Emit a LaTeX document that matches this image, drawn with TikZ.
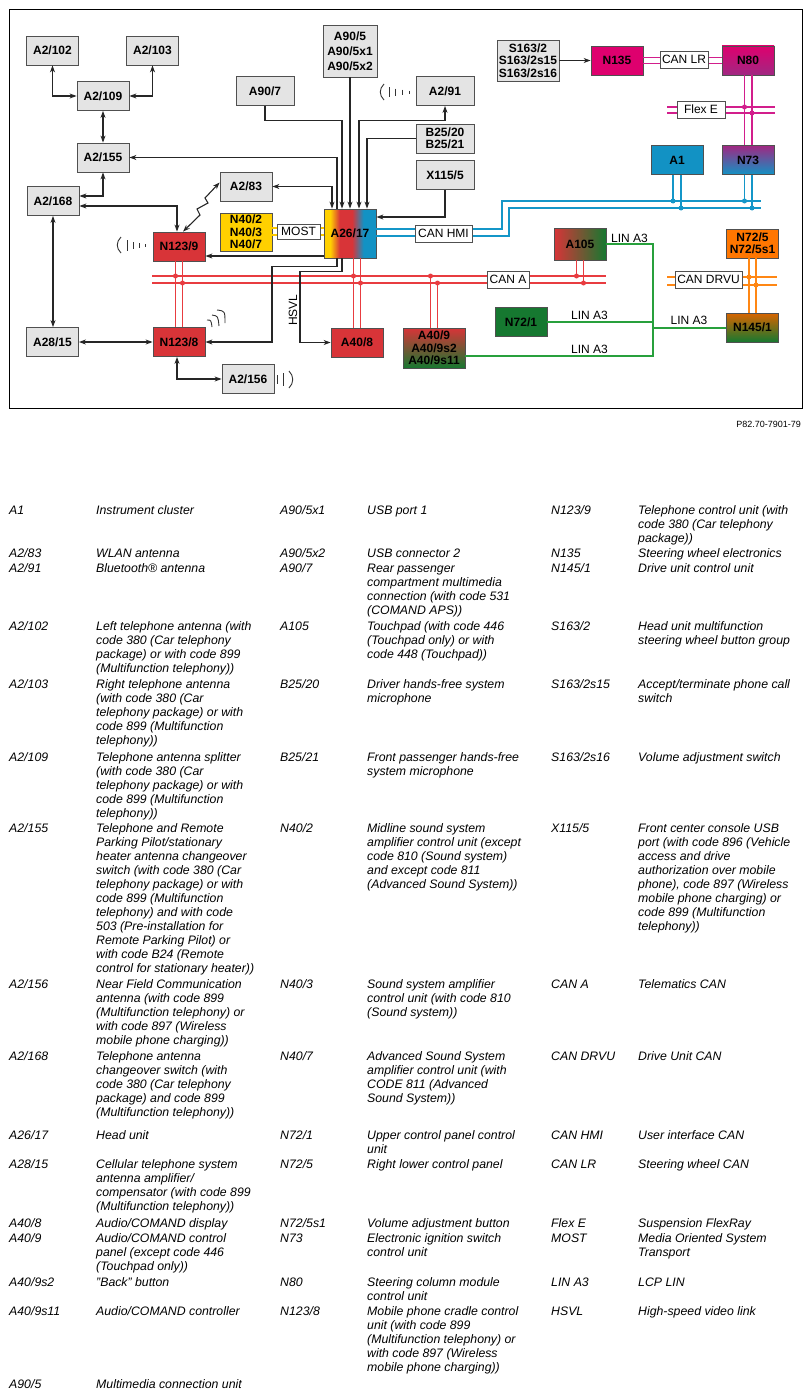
\documentclass[tikz,border=0pt]{standalone}
\usepackage{fontspec}
\setmainfont{Liberation Sans}
\usepackage{tikz}
\usetikzlibrary{arrows.meta}

\definecolor{boxline}{RGB}{80,80,80}
\definecolor{boxgray}{RGB}{228,228,228}
\definecolor{ecured}{RGB}{216,52,56}
\definecolor{ecumag}{RGB}{222,0,110}
\definecolor{ecupurple}{RGB}{160,40,130}
\definecolor{ecublue}{RGB}{18,146,196}
\definecolor{ecuyellow}{RGB}{255,208,0}
\definecolor{ecugreen}{RGB}{22,120,48}
\definecolor{ecuorange}{RGB}{255,118,0}
\definecolor{busred}{RGB}{232,60,64}
\definecolor{busmag}{RGB}{210,30,140}
\definecolor{busblue}{RGB}{20,150,200}
\definecolor{busyellow}{RGB}{250,200,0}
\definecolor{busgreen}{RGB}{40,160,60}
\definecolor{busorange}{RGB}{255,135,20}

\pgfdeclarehorizontalshading{headunit}{100bp}{color(0bp)=(ecuyellow); color(31bp)=(ecuyellow);
  color(40bp)=(ecured); color(52bp)=(ecured); color(63bp)=(ecublue); color(100bp)=(ecublue)}

\newcommand{\lgstrut}{\rule{0pt}{10pt}}
\newcommand{\lgentry}[5]{%
  \node[lgtext] (#1c) at (#2,#3-6) {\lgstrut #4};
  \node[lgtext] (#1d) at (#2+87,#3-6) {\lgstrut #5};}

\begin{document}
\begin{tikzpicture}[x=1pt,y=-1pt,>={Stealth[length=7pt,width=5pt]},
  box/.style={draw=boxline,line width=0.8pt,inner sep=0pt,minimum width=52pt,
    minimum height=29pt,align=center,font=\fontsize{12}{12.5}\selectfont\bfseries},
  gbox/.style={box,fill=boxgray},
  lbl/.style={draw=boxline,line width=0.7pt,fill=white,inner sep=0pt,
    minimum height=17pt,font=\fontsize{12}{12}\selectfont},
  wire/.style={line width=1.1pt,black!85},
  bus/.style={line width=1.6pt},
  wave/.style={line width=0.9pt,black!80},
  lintxt/.style={inner sep=0pt,font=\fontsize{12}{12}\selectfont},
  lgtext/.style={anchor=north west,inner sep=0pt,align=left,
    font=\fontsize{12.3}{14}\selectfont\itshape}]
\useasboundingbox (0,0) rectangle (811,1397);
\draw[line width=0.8pt] (9,9) rectangle (802,408);

% grey units
\node[gbox] (a2-102) at (52.5,50.5) {A2/102};
\node[gbox] (a2-103) at (152.5,50.5) {A2/103};
\node[gbox] (a2-109) at (103,96) {A2/109};
\node[gbox] (a2-155) at (103,157.5) {A2/155};
\node[gbox] (a2-168) at (53,201) {A2/168};
\node[gbox] (a2-83) at (246,186.5) {A2/83};
\node[gbox,minimum width=58pt] (a90-7) at (265,91) {A90/7};
\node[gbox,minimum width=54pt,minimum height=52pt,font=\fontsize{12}{15}\selectfont\bfseries] (a90-5) at (350,51) {A90/5\\A90/5x1\\A90/5x2};
\node[gbox,minimum width=58pt] (a2-91) at (445,91) {A2/91};
\node[gbox,minimum width=58pt] (b25-20) at (445,138.5) {B25/20\\B25/21};
\node[gbox,minimum width=58pt] (x115-5) at (445,175) {X115/5};
\node[gbox,minimum width=62pt,minimum height=41pt] (s163-2) at (528,60.5) {S163/2\\S163/2s15\\S163/2s16};
\node[gbox] (a28-15) at (52.5,342) {A28/15};
\node[gbox] (a2-156) at (248,379) {A2/156};

% coloured units
\node[box,fill=ecumag] (n135) at (617,60.5) {N135};
\node[box,top color=ecumag,bottom color=ecupurple] (n80) at (748,60.5) {N80};
\node[box,fill=ecublue] (a1) at (677,160) {A1};
\node[box,top color=ecupurple,bottom color=ecublue] (n73) at (748,160) {N73};
\node[box,minimum height=49pt,shading=headunit] (a26-17) at (350,233.5) {A26/17};
\node[box,fill=ecuyellow,minimum height=38pt] (n40) at (246,232) {N40/2\\N40/3\\N40/7};
\node[box,fill=ecured] (n123-9) at (179,246.5) {N123/9};
\node[box,fill=ecured] (n123-8) at (179,342) {N123/8};
\node[box,fill=ecured] (a40-8) at (357,342.5) {A40/8};
\node[box,minimum width=62pt,minimum height=40pt,top color=ecured,bottom color=ecugreen] (a40-9) at (434,348) {A40/9\\A40/9s2\\A40/9s11};
\node[box,fill=ecugreen] (n72-1) at (521,322) {N72/1};
\node[box,minimum height=32pt,left color=ecured,right color=ecugreen] (a105) at (580,244) {A105};
\node[box,fill=ecuorange] (n72-5) at (752.5,243.5) {N72/5\\N72/5s1};
\node[box,top color=ecuorange!85!black,bottom color=ecugreen] (n145-1) at (752.5,327.5) {N145/1};

% bus ends
\coordinate (lrA) at (667,107);
\coordinate (lrB) at (775,107);
\coordinate (hmiA) at (502,201);
\coordinate (hmiB) at (509,208);
\coordinate (hmiEa) at (761,201);
\coordinate (hmiEb) at (761,208);
\coordinate (canaW) at (152,276);
\coordinate (canaE) at (606,276);
\coordinate (drvW) at (667,277);
\coordinate (drvE) at (777,277);
\coordinate (lin) at (653,322);

% CAN LR / Flex E
\draw[bus,busmag] ([yshift=3pt]n135.east) -- ([yshift=3pt]n80.west);
\draw[bus,busmag] ([yshift=-3pt]n135.east) -- ([yshift=-3pt]n80.west);
\draw[bus,busmag] (lrA) -- (lrB);
\draw[bus,busmag] ([yshift=-6pt]lrA) -- ([yshift=-6pt]lrB);
\draw[bus,busmag] ([xshift=-3.5pt]n80.south) -- ([xshift=-3.5pt]n73.north);
\draw[bus,busmag] ([xshift=4pt]n80.south) -- ([xshift=4pt]n73.north);
\fill[busmag] (744.5,107) circle (2.5) (752,113) circle (2.5);

% CAN HMI
\draw[bus,busblue] ([yshift=4.5pt]a26-17.east) -| (hmiA) -- (hmiEa);
\draw[bus,busblue] ([yshift=-2.5pt]a26-17.east) -| (hmiB) -- (hmiEb);
\draw[bus,busblue] ([xshift=-4pt]a1.south) -- ([xshift=-4pt]a1.south |- hmiA);
\draw[bus,busblue] ([xshift=4pt]a1.south) -- ([xshift=4pt]a1.south |- hmiB);
\draw[bus,busblue] ([xshift=-3.5pt]n73.south) -- ([xshift=-3.5pt]n73.south |- hmiA);
\draw[bus,busblue] ([xshift=4pt]n73.south) -- ([xshift=4pt]n73.south |- hmiB);
\fill[busblue] (673,201) circle (2.5) (681,208) circle (2.5)
  (744.5,201) circle (2.5) (752,208) circle (2.5);

% MOST
\draw[bus,busyellow] ([yshift=4pt]n40.east) -- ([yshift=4pt]n40.east -| a26-17.west);
\draw[bus,busyellow] ([yshift=-3pt]n40.east) -- ([yshift=-3pt]n40.east -| a26-17.west);

% CAN A
\draw[bus,busred] (canaW) -- (canaE);
\draw[bus,busred] ([yshift=-7pt]canaW) -- ([yshift=-7pt]canaE);
\draw[bus,busred] ([xshift=-3.5pt]n123-9.south) -- ([xshift=-3.5pt]n123-8.north);
\draw[bus,busred] ([xshift=3.5pt]n123-9.south) -- ([xshift=3.5pt]n123-8.north);
\draw[bus,busred] ([xshift=-3.5pt]a40-8.north) -- ([xshift=-3.5pt]a40-8.north |- a26-17.south);
\draw[bus,busred] ([xshift=3.5pt]a40-8.north) -- ([xshift=3.5pt]a40-8.north |- a26-17.south);
\draw[bus,busred] ([xshift=-3.5pt]a40-9.north) -- ([xshift=-3.5pt]a40-9.north |- canaW);
\draw[bus,busred] ([xshift=3.5pt]a40-9.north) -- ++(0,-45);
\draw[bus,busred] ([xshift=-3.5pt]a105.south) -- ([xshift=-3.5pt]a105.south |- canaW);
\draw[bus,busred] ([xshift=3.5pt]a105.south) -- ++(0,23);
\fill[busred] (175.5,276) circle (2.5) (182.5,283) circle (2.5)
  (353.5,276) circle (2.5) (360.5,283) circle (2.5)
  (430.5,276) circle (2.5) (437.5,283) circle (2.5)
  (576.5,276) circle (2.5) (583.5,283) circle (2.5);

% CAN DRVU
\draw[bus,busorange] (drvW) -- (drvE);
\draw[bus,busorange] ([yshift=-8pt]drvW) -- ([yshift=-8pt]drvE);
\draw[bus,busorange] ([xshift=-3.5pt]n72-5.south) -- ([xshift=-3.5pt]n145-1.north);
\draw[bus,busorange] ([xshift=3.5pt]n72-5.south) -- ([xshift=3.5pt]n145-1.north);
\fill[busorange] (749,277) circle (2.5) (756,285) circle (2.5);

% LIN A3
\draw[bus,busgreen,line width=1.4pt] (a105.east) -| (lin) |- ([yshift=-8pt]a40-9.east);
\draw[bus,busgreen,line width=1.4pt] (n72-1.east) -- (lin);
\draw[bus,busgreen,line width=1.4pt] ([yshift=-0.5pt]n145-1.west) -- ([yshift=-0.5pt]n145-1.west -| lin);
\node[lintxt] (lin1) at (629.5,238) {LIN A3};
\node[lintxt] (lin2) at (589.5,315) {LIN A3};
\node[lintxt] (lin3) at (689,320) {LIN A3};
\node[lintxt] (lin4) at (589.5,349) {LIN A3};

% bus labels
\node[lbl,minimum width=48pt] (canlr) at (684,59.5) {CAN LR};
\node[lbl,minimum width=48pt] (flexe) at (701,109.5) {Flex E};
\node[lbl,minimum width=43pt,minimum height=15pt] (most) at (298.5,231.5) {MOST};
\node[lbl,minimum width=57pt] (canhmi) at (443.5,233.5) {CAN HMI};
\node[lbl,minimum width=42pt] (cana) at (508,279.5) {CAN A};
\node[lbl,minimum width=67pt] (candrvu) at (708.5,279.5) {CAN DRVU};

% telephone wiring
\draw[wire,<->] (a2-109.west) -| (a2-102.south);
\draw[wire,<->] (a2-109.east) -| (a2-103.south);
\draw[wire,<->] (a2-109) -- (a2-155);
\draw[wire,<->] (a2-155.south) |- ([yshift=5pt]a2-168.east);
\draw[wire,<->] ([yshift=-5pt]a2-168.east) -| ([xshift=-2pt]n123-9.north);
\draw[wire,<->] (a2-168.south) -- (a2-168.south |- a28-15.north);
\draw[wire,<->] (a28-15.east) -- (n123-8.west);
\draw[wire,<->] ([xshift=-2pt]n123-8.south) |- (a2-156.west);
\draw[wire,<->] ([xshift=4pt]n123-9.north) -- (200,215) -- (197,209) -- (208,203)
  -- (205,198) -- ([yshift=4pt]a2-83.west);

% head unit wiring
\draw[wire,->] ([xshift=-13pt]a26-17.north) |- (a2-155.east);
\draw[wire,<->] (a2-83.east) -| ([xshift=-18pt]a26-17.north);
\draw[wire,->] (a90-7.south) -- ++(0,15) -| ([xshift=-8pt]a26-17.north);
\draw[wire,->] (a90-5.south) -- (a26-17.north);
\draw[wire,<->] (a2-91.south) -- ++(0,15) -| ([xshift=9pt]a26-17.north);
\draw[wire,->] (b25-20.west) -| ([xshift=17pt]a26-17.north);
\draw[wire,->] (x115-5.south) |- ([yshift=16.5pt]a26-17.east);
\draw[wire,->] (s163-2.east) -- (n135.west);
\draw[wire,->] ([yshift=-22.5pt]a26-17.west) -- ([yshift=-22.5pt]a26-17.west -| n123-9.east);
\draw[wire,->] ([xshift=-13pt]a26-17.south) |- ++(-65,8) |- (n123-8.east);
\draw[wire,->] ([xshift=-8pt]a26-17.south) |- ++(-42,13) |- (a40-8.west);
\node[lintxt,rotate=90] (hsvl) at (293,310) {HSVL};

% antenna waves
\draw[wave] (121,237) .. controls (116,242) and (116,248) .. (121,253);
\draw[wave] (127,240) -- (127,251) (133,242) -- (133,249) (139,243) -- (139,248) (145,244) -- (145,247);
\draw[wave] (384,84) .. controls (379,89) and (379,95) .. (384,100);
\draw[wave] (389,87) -- (389,97) (395,88.5) -- (395,95.5) (402,89.5) -- (402,94.5) (409,90.5) -- (409,93.5);
\draw[wave] (277,375) -- (277,384) (283,373) -- (283,386);
\draw[wave] (289,371) .. controls (294,376) and (294,383) .. (289,388);
\draw[wave] (207,320) .. controls (211,320) .. (212,327);
\draw[wave] (212,315) .. controls (218,316) .. (219,326);
\draw[wave] (217,310) .. controls (225,311) .. (225,323);

\node[anchor=east,inner sep=0pt,font=\fontsize{9}{9}\selectfont] (refno) at (801,424) {P82.70-7901-79};

% legend
\lgentry{la1}{9}{510}{A1}{Instrument cluster}
\lgentry{la283}{9}{553}{A2/83}{WLAN antenna}
\lgentry{la291}{9}{568}{A2/91}{Bluetooth® antenna}
\lgentry{la2102}{9}{626}{A2/102}{Left telephone antenna (with\\code 380 (Car telephony\\package) or with code 899\\(Multifunction telephony))}
\lgentry{la2103}{9}{684}{A2/103}{Right telephone antenna\\(with code 380 (Car\\telephony package) or with\\code 899 (Multifunction\\telephony))}
\lgentry{la2109}{9}{757}{A2/109}{Telephone antenna splitter\\(with code 380 (Car\\telephony package) or with\\code 899 (Multifunction\\telephony))}
\lgentry{la2155}{9}{828}{A2/155}{Telephone and Remote\\Parking Pilot/stationary\\heater antenna changeover\\switch (with code 380 (Car\\telephony package) or with\\code 899 (Multifunction\\telephony) and with code\\503 (Pre-installation for\\Remote Parking Pilot) or\\with code B24 (Remote\\control for stationary heater))}
\lgentry{la2156}{9}{984}{A2/156}{Near Field Communication\\antenna (with code 899\\(Multifunction telephony) or\\with code 897 (Wireless\\mobile phone charging))}
\lgentry{la2168}{9}{1056}{A2/168}{Telephone antenna\\changeover switch (with\\code 380 (Car telephony\\package) and code 899\\(Multifunction telephony))}
\lgentry{la2617}{9}{1135}{A26/17}{Head unit}
\lgentry{la2815}{9}{1164}{A28/15}{Cellular telephone system\\antenna amplifier/\\compensator (with code 899\\(Multifunction telephony))}
\lgentry{la408}{9}{1223}{A40/8}{Audio/COMAND display}
\lgentry{la409}{9}{1238}{A40/9}{Audio/COMAND control\\panel (except code 446\\(Touchpad only))}
\lgentry{la409s2}{9}{1282}{A40/9s2}{"Back" button}
\lgentry{la409s11}{9}{1311}{A40/9s11}{Audio/COMAND controller}
\lgentry{la905}{9}{1384}{A90/5}{Multimedia connection unit}

\lgentry{la905x1}{280}{510}{A90/5x1}{USB port 1}
\lgentry{la905x2}{280}{553}{A90/5x2}{USB connector 2}
\lgentry{la907}{280}{568}{A90/7}{Rear passenger\\compartment multimedia\\connection (with code 531\\(COMAND APS))}
\lgentry{la105}{280}{626}{A105}{Touchpad (with code 446\\(Touchpad only) or with\\code 448 (Touchpad))}
\lgentry{lb2520}{280}{684}{B25/20}{Driver hands-free system\\microphone}
\lgentry{lb2521}{280}{757}{B25/21}{Front passenger hands-free\\system microphone}
\lgentry{ln402}{280}{828}{N40/2}{Midline sound system\\amplifier control unit (except\\code 810 (Sound system)\\and except code 811\\(Advanced Sound System))}
\lgentry{ln403}{280}{984}{N40/3}{Sound system amplifier\\control unit (with code 810\\(Sound system))}
\lgentry{ln407}{280}{1056}{N40/7}{Advanced Sound System\\amplifier control unit (with\\CODE 811 (Advanced\\Sound System))}
\lgentry{ln721}{280}{1135}{N72/1}{Upper control panel control\\unit}
\lgentry{ln725}{280}{1164}{N72/5}{Right lower control panel}
\lgentry{ln725s1}{280}{1223}{N72/5s1}{Volume adjustment button}
\lgentry{ln73}{280}{1238}{N73}{Electronic ignition switch\\control unit}
\lgentry{ln80}{280}{1282}{N80}{Steering column module\\control unit}
\lgentry{ln1238}{280}{1311}{N123/8}{Mobile phone cradle control\\unit (with code 899\\(Multifunction telephony) or\\with code 897 (Wireless\\mobile phone charging))}

\lgentry{ln1239}{551}{510}{N123/9}{Telephone control unit (with\\code 380 (Car telephony\\package))}
\lgentry{ln135}{551}{553}{N135}{Steering wheel electronics}
\lgentry{ln1451}{551}{568}{N145/1}{Drive unit control unit}
\lgentry{ls1632}{551}{626}{S163/2}{Head unit multifunction\\steering wheel button group}
\lgentry{ls1632s15}{551}{684}{S163/2s15}{Accept/terminate phone call\\switch}
\lgentry{ls1632s16}{551}{757}{S163/2s16}{Volume adjustment switch}
\lgentry{lx1155}{551}{828}{X115/5}{Front center console USB\\port (with code 896 (Vehicle\\access and drive\\authorization over mobile\\phone), code 897 (Wireless\\mobile phone charging) or\\code 899 (Multifunction\\telephony))}
\lgentry{lcana}{551}{984}{CAN A}{Telematics CAN}
\lgentry{lcandrvu}{551}{1056}{CAN DRVU}{Drive Unit CAN}
\lgentry{lcanhmi}{551}{1135}{CAN HMI}{User interface CAN}
\lgentry{lcanlr}{551}{1164}{CAN LR}{Steering wheel CAN}
\lgentry{lflexe}{551}{1223}{Flex E}{Suspension FlexRay}
\lgentry{lmost}{551}{1238}{MOST}{Media Oriented System\\Transport}
\lgentry{llina3}{551}{1282}{LIN A3}{LCP LIN}
\lgentry{lhsvl}{551}{1311}{HSVL}{High-speed video link}
\end{tikzpicture}
\end{document}
